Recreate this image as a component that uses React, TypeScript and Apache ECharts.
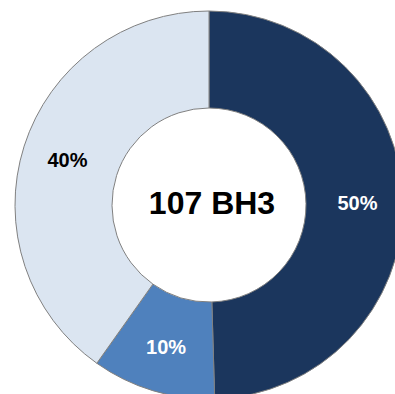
import React, { useEffect, useRef } from "react";
import * as echarts from "echarts";

const categories = ["A", "B", "C"];
const values = [53, 11, 43];
const colors = ["#1b365d", "#4f81bd", "#dbe5f1"];
const labelColors = ["#ffffff", "#ffffff", "#000000"];
const centerText = "107 BH3";

export default function App() {
  const ref = useRef<HTMLDivElement>(null);
  useEffect(() => {
    const chart = echarts.init(ref.current!, null, { renderer: "svg" });
    chart.setOption({
      animation: false,
      graphic: [
        {
          type: "text",
          x: 212,
          y: 203,
          style: {
            text: centerText,
            fontSize: 32,
            fontWeight: "bold",
            fontFamily: "Liberation Sans, Arial, sans-serif",
            fill: "#000",
            textAlign: "center",
            textVerticalAlign: "middle",
          },
        },
      ],
      series: [
        {
          type: "pie",
          center: [209, 205],
          radius: [97, 194],
          startAngle: 90,
          clockwise: true,
          percentPrecision: 0,
          itemStyle: { borderColor: "#808080", borderWidth: 1 },
          label: {
            position: "inside",
            formatter: (p: any) => Math.round(p.percent) + "%",
            fontSize: 20,
            fontWeight: "bold",
            fontFamily: "Liberation Sans, Arial, sans-serif",
          },
          labelLine: { show: false },
          emphasis: { disabled: true },
          data: categories.map((c, i) => ({
            name: c,
            value: values[i],
            itemStyle: { color: colors[i] },
            label: { color: labelColors[i] },
          })),
        },
      ],
    });
    return () => chart.dispose();
  }, []);
  return (
    <div
      ref={ref}
      style={{ position: "fixed", left: 0, top: 0, width: 395, height: 394, background: "#fff" }}
    />
  );
}
